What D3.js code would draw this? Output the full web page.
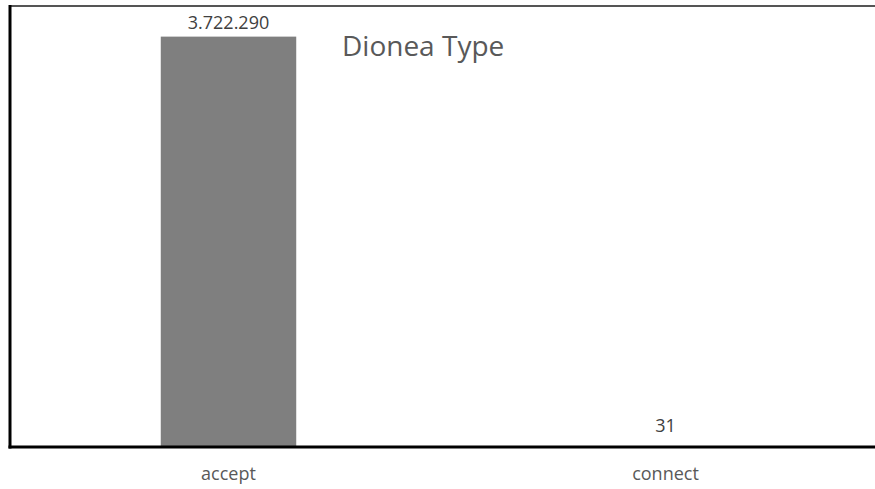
<!DOCTYPE html>
<html>
<head>
<meta charset="utf-8">
<script src="https://cdn.jsdelivr.net/npm/d3@7"></script>
<style>
  body { margin: 0; background: #fff; }
  svg { display: block; font-family: 'Open Sans', sans-serif; }
</style>
</head>
<body>
<svg id="chart"></svg>
<script>
// chart data
var categories = ['accept', 'connect']
var counts = [3722290, 31]
var yTicks = [0, 4000000]

var width = 875
var height = 489
var plot = {left: 10, right: 884, top: 6, bottom: 447}

var svg = d3.select('#chart')
    .attr('width', width)
    .attr('height', height)

var data = categories.map(function (c, i) { return {type: c, count: counts[i]} })

// set the ranges
var x = d3.scaleBand()
    .domain(categories)
    .range([plot.left, plot.right])
    .padding(0)

var y = d3.scaleLinear()
    .domain(d3.extent(yTicks))
    .range([plot.bottom, plot.top])

var barWidth = x.bandwidth() * 0.31
var fmt = d3.formatLocale({decimal: ',', thousands: '.', grouping: [3], currency: ['', '']}).format(',d')

// bars
svg.selectAll('.bar')
    .data(data)
  .enter().append('rect')
    .attr('class', 'bar')
    .attr('fill', '#7f7f7f')
    .attr('x', function (d) { return x(d.type) + x.bandwidth() / 2 - barWidth / 2 })
    .attr('width', barWidth)
    .attr('y', function (d) { return y(d.count) })
    .attr('height', function (d) { return y(0) - y(d.count) })

// frame: top line, left and bottom axis lines
svg.append('line')
    .attr('x1', plot.left).attr('x2', width)
    .attr('y1', plot.top).attr('y2', plot.top)
    .attr('stroke', '#555').attr('stroke-width', 2)
svg.append('line')
    .attr('x1', plot.left).attr('x2', plot.left)
    .attr('y1', plot.top - 1).attr('y2', y(0) + 1.5)
    .attr('stroke', '#000').attr('stroke-width', 3)
svg.append('line')
    .attr('x1', plot.left - 1.5).attr('x2', width)
    .attr('y1', y(0)).attr('y2', y(0))
    .attr('stroke', '#000').attr('stroke-width', 3)

// value labels
svg.selectAll('.bar-label')
    .data(data)
  .enter().append('text')
    .attr('class', 'bar-label')
    .attr('text-anchor', 'middle')
    .attr('font-size', 18)
    .attr('fill', '#404040')
    .attr('x', function (d) { return x(d.type) + x.bandwidth() / 2 })
    .attr('y', function (d) { return Math.min(y(d.count) - 8, y(0) - 15) })
    .text(function (d) { return fmt(d.count) })

// category labels
svg.selectAll('.x-label')
    .data(categories)
  .enter().append('text')
    .attr('class', 'x-label')
    .attr('text-anchor', 'middle')
    .attr('font-size', 18)
    .attr('fill', '#595959')
    .attr('x', function (d) { return x(d) + x.bandwidth() / 2 })
    .attr('y', 480)
    .text(function (d) { return d })

// title
svg.append('text')
    .attr('x', 342)
    .attr('y', 56)
    .attr('font-size', 28)
    .attr('fill', '#595959')
    .text('Dionea Type')
</script>
</body>
</html>
